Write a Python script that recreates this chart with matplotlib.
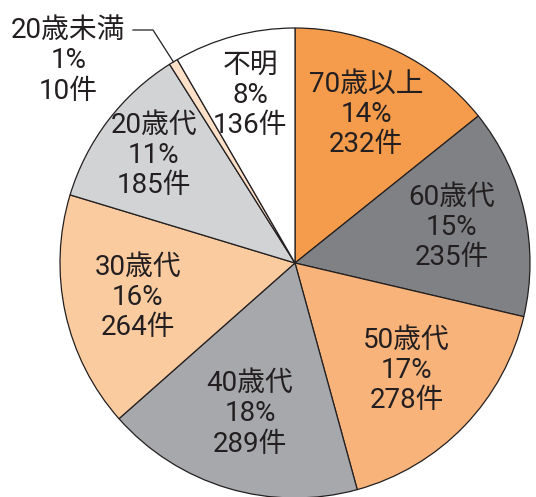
import numpy as np
import matplotlib
matplotlib.use('Agg')
from matplotlib import pyplot as plt

plt.rcParams['font.family'] = ['Roboto', 'Noto Sans CJK JP', 'DejaVu Sans']

# data, clockwise from 12 o'clock
ages = ['70歳以上', '60歳代', '50歳代', '40歳代', '30歳代', '20歳代', '20歳未満', '不明']
counts = [232, 235, 278, 289, 264, 185, 10, 136]
pcts = [14, 15, 17, 18, 16, 11, 1, 8]
colors = ['#F59B4C', '#808184', '#F8B37B', '#A7A8AB', '#FBCBA0', '#D2D3D5', '#FDE0C8', '#FFFFFF']
label_r = [0.70, 0.685, 0.66, 0.67, 0.685, 0.755, None, 0.737]  # None -> outside label

fig = plt.figure(figsize=(5.36, 4.97), dpi=100)
ax = fig.add_axes([0, 0, 1, 1])
wedges, _ = ax.pie(counts, colors=colors, startangle=90, counterclock=False,
                   radius=1.0, center=(0, 0),
                   wedgeprops=dict(edgecolor='#231F20', linewidth=0.9))
ax.set_xlim(-295 / 235, (536 - 295) / 235)
ax.set_ylim(-(497 - 263) / 235, 263 / 235)
ax.set_aspect('auto')
ax.axis('off')

txtc = '#231F20'
fs = 20
for w, a, c, p, r in zip(wedges, ages, counts, pcts, label_r):
    s = '%s\n%d%%\n%d件' % (a, p, c)
    mid = np.deg2rad((w.theta1 + w.theta2) / 2)
    if r is None:
        # small slice: label up-left with a leader line
        ex, ey = np.cos(mid), np.sin(mid)
        ty = 233 / 235
        ax.plot([ex, (153 - 295) / 235, (133 - 295) / 235], [ey, ty, ty],
                color=txtc, lw=0.9, clip_on=False)
        ax.text(-0.965, 0.86, s, ha='center', va='center', fontsize=fs,
                color=txtc, linespacing=1.15)
        continue
    ax.text(r * np.cos(mid), r * np.sin(mid), s, ha='center', va='center',
            fontsize=fs, color=txtc, linespacing=1.15)

plt.savefig('out.png', dpi=100)
